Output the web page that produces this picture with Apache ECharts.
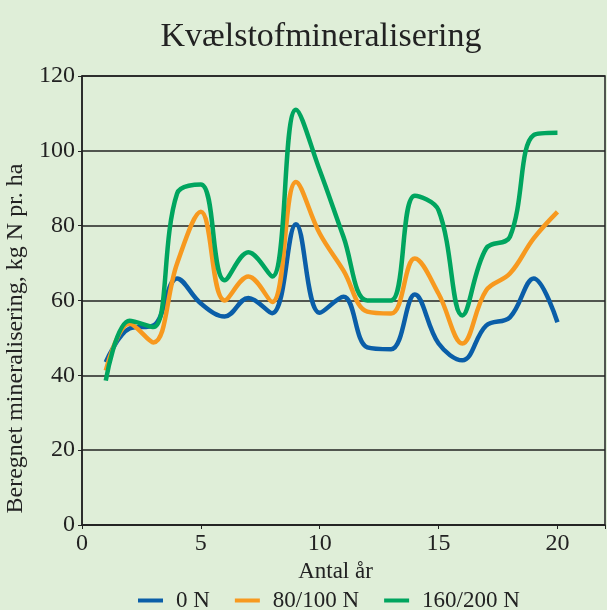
<!DOCTYPE html>
<html>
<head>
<meta charset="utf-8">
<script src="https://cdn.jsdelivr.net/npm/echarts@6/dist/echarts.min.js"></script>
<style>
html, body { margin: 0; padding: 0; background: #dfeed8; }
#chart { width: 607px; height: 610px; }
</style>
</head>
<body>
<div id="chart"></div>
<script>
// år og beregnet mineralisering (kg N pr. ha)
var years = [1, 2, 3, 4, 5, 6, 7, 8, 9, 10, 11, 12, 13, 14, 15, 16, 17, 18, 19, 20];
var n0 = [43.5, 52.5, 53.3, 65.9, 59.2, 55.7, 60.7, 56.6, 80.4, 56.7, 61, 47.5, 47, 61.6, 48.5, 44, 53.3, 55.5, 65.9, 54.2];
var n80 = [41.3, 53.8, 48.8, 69.9, 83.7, 60, 66.4, 59.6, 91.7, 77.9, 68, 57, 56.5, 71.2, 61.8, 48.5, 62.7, 67.2, 76.6, 83.7];
var n160 = [38.6, 54.6, 52.9, 88.6, 91, 65.4, 72.9, 66.4, 111, 94.8, 77, 60, 60, 88, 84.1, 56, 73.9, 77, 104.2, 104.8];
var seriesNames = ['0 N', '80/100 N', '160/200 N'];
var colors = ['#0a5ea8', '#f7991f', '#00a55f'];

var font = '"Liberation Serif", "DejaVu Serif", serif';

function pairs(vals) {
	var out = [];
	for (var i = 0; i < years.length; i++) {
		out.push([years[i], vals[i]]);
	}
	return out;
}

var chart = echarts.init(document.getElementById('chart'));
var allVals = [n0, n80, n160];
var series = [];
for (var k = 0; k < allVals.length; k++) {
	series.push({
		name: seriesNames[k],
		type: 'line',
		smooth: 0.38,
		showSymbol: false,
		symbol: 'none',
		data: pairs(allVals[k]),
		lineStyle: { color: colors[k], width: 4.5 },
		itemStyle: { color: colors[k] }
	});
}

chart.setOption({
	backgroundColor: '#dfeed8',
	animation: false,
	title: {
		text: 'Kvælstofmineralisering',
		left: 316,
		textAlign: 'center',
		top: 15,
		textStyle: { fontFamily: font, fontSize: 34, fontWeight: 'normal', color: '#222' }
	},
	legend: {
		top: 584,
		left: 133,
		icon: 'rect',
		itemWidth: 25,
		itemHeight: 4,
		itemGap: 25,
		textStyle: { fontFamily: font, fontSize: 23, color: '#222', padding: [0, 0, 0, 8] },
		data: seriesNames
	},
	grid: {
		left: 82,
		right: 2,
		top: 76,
		bottom: 85,
		outerBoundsMode: 'none',
		show: true,
		borderColor: '#222',
		borderWidth: 1.5
	},
	xAxis: {
		type: 'value',
		min: 0,
		max: 22,
		interval: 5,
		name: 'Antal år',
		nameLocation: 'middle',
		nameGap: 34,
		nameTextStyle: { fontFamily: font, fontSize: 23, color: '#222', padding: [0, 16, 0, 0] },
		axisLine: { lineStyle: { color: '#222', width: 1.5 } },
		axisTick: { length: 4, lineStyle: { color: '#222' } },
		axisLabel: {
			fontFamily: font, fontSize: 24, color: '#222', margin: 7,
			formatter: function(v) { return v % 5 === 0 ? v : ''; }
		},
		splitLine: { show: false }
	},
	yAxis: {
		type: 'value',
		min: 0,
		max: 120,
		interval: 20,
		name: 'Beregnet mineralisering, kg N pr. ha',
		nameLocation: 'middle',
		nameGap: 45,
		nameTextStyle: { fontFamily: font, fontSize: 24, color: '#222', padding: [0, 76, 0, 0] },
		axisLine: { lineStyle: { color: '#222', width: 1.5 } },
		axisTick: { show: true, length: 4, lineStyle: { color: '#222' } },
		axisLabel: { fontFamily: font, fontSize: 24, color: '#222', margin: 7 },
		splitLine: { lineStyle: { color: '#222', width: 1.6 } }
	},
	series: series
});
</script>
</body>
</html>
